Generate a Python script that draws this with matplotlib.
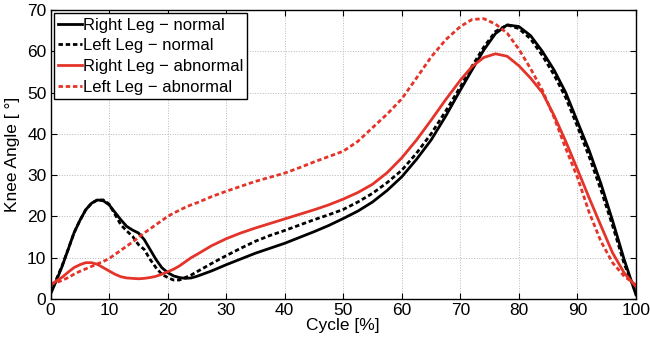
import matplotlib
matplotlib.use('Agg')
import matplotlib.pyplot as plt

# gait cycle (%)
cycle = [0, 1, 2, 3, 4, 5, 6, 7, 8, 9, 10, 11, 12, 13, 14, 15, 16, 17, 18, 19, 20,
         21, 22, 23, 24, 25, 27.5, 30, 32.5, 35, 37.5, 40, 42.5, 45, 47.5, 50,
         52.5, 55, 57.5, 60, 62.5, 65, 67.5, 70, 72, 74, 76, 78, 80, 82, 84, 86,
         88, 90, 92, 94, 96, 98, 100]

right_normal = [1.2, 4.5, 8, 12, 16, 19, 21.6, 23.2, 24, 23.8, 22.8, 21, 19.2, 17.6,
                16.7, 16, 14.4, 12, 9.6, 7.6, 6.4, 5.6, 5.2, 5, 5.1, 5.5,
                6.8, 8.3, 9.7, 11.1, 12.3, 13.5, 14.9, 16.3, 17.8, 19.5, 21.3, 23.5,
                26.3, 29.6, 33.8, 38.5, 44.3, 50.6,
                55.5, 60.3, 64.3, 66.4, 66, 63.8, 60, 55.5, 50, 43, 36, 28, 19, 9.5, 1]

left_normal = [1.5, 4.8, 8.2, 12, 16, 19, 21.6, 23.2, 24, 24, 23, 20.5, 18, 16.5,
               15.2, 13.2, 12, 9.6, 7.6, 6, 5.2, 4.6, 4.6, 5.2, 5.8, 6.6,
               8.6, 10.5, 12.3, 14, 15.4, 16.6, 17.9, 19.2, 20.4, 21.7, 23.5, 25.6,
               28.2, 31.2, 35.3, 40, 45.5, 51.4,
               56.4, 61, 64.8, 66.4, 65.5, 63, 59, 54.3, 48.8, 41.8, 34.5, 26.5, 17.8, 8.5, 1.5]

right_abnormal = [3.4, 4.4, 5.3, 6.5, 7.6, 8.3, 8.8, 8.8, 8.4, 7.6, 6.8, 6, 5.4, 5.1,
                  5, 4.9, 5, 5.2, 5.5, 6, 6.6, 7.2, 8, 9, 10, 10.8,
                  12.9, 14.6, 16, 17.2, 18.3, 19.4, 20.5, 21.6, 22.8, 24.2, 25.8, 27.8,
                  30.6, 34.2, 38.5, 43.3, 48.3, 53,
                  56.3, 58.5, 59.4, 58.8, 56.5, 53.5, 50, 44.5, 38.2, 31.4, 24.5, 17.8, 11.2, 6.3, 3]

left_abnormal = [3.6, 4, 4.5, 5.2, 6, 6.7, 7.3, 7.9, 8.5, 9.1, 9.8, 10.8, 11.8, 12.8,
                 13.8, 14.9, 16, 17, 18, 19, 20, 20.8, 21.5, 22.2, 22.8, 23.3,
                 24.8, 26.1, 27.3, 28.5, 29.5, 30.5, 31.8, 33.2, 34.5, 35.8, 38.2, 41.5,
                 44.8, 48.5, 53.5, 58.6, 62.8, 66,
                 67.7, 67.9, 66.6, 64.4, 60.5, 55.8, 50.6, 44, 36.5, 29.5, 21, 14, 8.8, 5.5, 3.4]

labels = ['Right Leg \u2212 normal', 'Left Leg \u2212 normal',
          'Right Leg \u2212 abnormal', 'Left Leg \u2212 abnormal']

plt.rcParams['font.family'] = ['Liberation Sans', 'DejaVu Sans']
plt.rcParams['font.size'] = 12.5

red = '#e4342a'
dots = (0, (1.6, 1))

fig = plt.figure(figsize=(6.5, 3.42), dpi=100)
ax = fig.add_axes([0.0778, 0.1257, 0.9006, 0.845])

ax.plot(cycle, right_normal, color='black', lw=2, label=labels[0])
ax.plot(cycle, left_normal, color='black', lw=2, linestyle=dots, label=labels[1])
ax.plot(cycle, right_abnormal, color=red, lw=2, label=labels[2])
ax.plot(cycle, left_abnormal, color=red, lw=2, linestyle=dots, label=labels[3])

ax.set_xlim(0, 100)
ax.set_ylim(0, 70)
ax.set_xticks(range(0, 101, 10))
ax.set_yticks(range(0, 71, 10))
ax.tick_params(direction='in', top=True, right=True, length=4, width=0.8, pad=3)
ax.grid(True, linestyle=':', color='#b8b8b8', lw=0.7)
for s in ax.spines.values():
    s.set_linewidth(1)

ax.set_xlabel('Cycle [%]', labelpad=0)
ax.set_ylabel('Knee Angle [ \u00b0]', labelpad=5)

leg = ax.legend(loc='upper left', fancybox=False, edgecolor='black', framealpha=1,
                fontsize=12, handlelength=1.45, handletextpad=0.02, labelspacing=0.34,
                borderpad=0.25, borderaxespad=0.2)
leg.get_frame().set_linewidth(1)

plt.savefig('out.png', dpi=100)
